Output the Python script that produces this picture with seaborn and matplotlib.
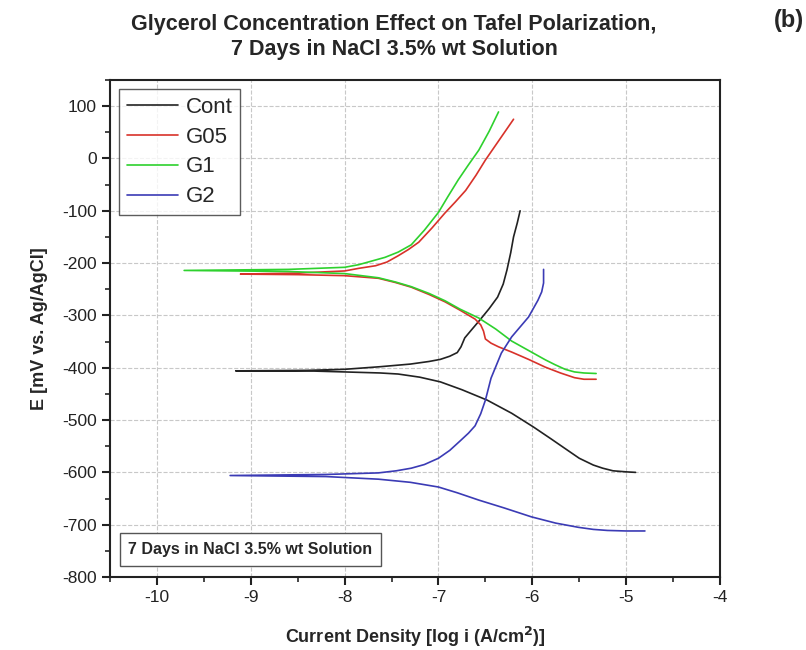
import pandas as pd
import matplotlib
matplotlib.use('Agg')
import matplotlib.pyplot as plt
from matplotlib.ticker import MultipleLocator
import seaborn as sns

# Tafel polarization curves
# each curve: cathodic branch (from its far end back to Ecorr), then anodic branch
cont_logi = [-4.90, -5.00, -5.14, -5.25, -5.35, -5.50, -5.63, -5.80, -5.99, -6.22, -6.48, -6.75, -6.98,
             -7.20, -7.43, -7.62, -8.0, -8.4, -9.16,
             -8.4, -8.0, -7.62, -7.30, -7.10, -6.98, -6.88, -6.80, -6.76, -6.72, -6.65, -6.56, -6.46,
             -6.37, -6.31, -6.27, -6.23, -6.20, -6.16, -6.13]
cont_E = [-600, -599, -597, -592, -586, -573, -557, -536, -513, -487, -462, -442, -427,
          -418, -412, -410, -408, -406, -406,
          -405, -403, -398, -393, -388, -384, -378, -371, -360, -343, -328, -309, -287,
          -265, -240, -213, -180, -150, -123, -100]

g05_logi = [-5.32, -5.45, -5.55, -5.70, -5.86, -6.04, -6.22, -6.36, -6.44, -6.50, -6.52, -6.55, -6.61,
            -6.77, -6.93, -7.10, -7.29, -7.46, -7.64, -8.0, -8.5, -9.11,
            -8.5, -8.0, -7.85, -7.67, -7.55, -7.43, -7.32, -7.21, -7.07, -6.93, -6.82, -6.71,
            -6.60, -6.50, -6.35, -6.20]
g05_E = [-422, -422, -419, -410, -399, -384, -370, -360, -353, -345, -330, -318, -307,
         -290, -274, -260, -246, -237, -229, -224, -222, -221,
         -219, -215, -210, -205, -198, -186, -174, -160, -133, -104, -83, -61,
         -32, -3, 36, 75]

g1_logi = [-5.32, -5.45, -5.55, -5.65, -5.76, -5.86, -6.04, -6.22, -6.39, -6.57, -6.77, -6.93,
           -7.10, -7.29, -7.46, -7.64, -8.0, -8.6, -9.71,
           -8.6, -8.0, -7.85, -7.71, -7.57, -7.43, -7.29, -7.15, -7.0, -6.90, -6.79, -6.68,
           -6.57, -6.46, -6.36]
g1_E = [-411, -410, -408, -403, -394, -385, -367, -349, -326, -305, -288, -272,
        -258, -245, -236, -228, -220, -216, -214,
        -212, -208, -203, -196, -189, -179, -165, -137, -103, -73, -41, -12,
        16, 52, 89]

g2_logi = [-4.80, -5.00, -5.20, -5.35, -5.51, -5.75, -6.01, -6.30, -6.57, -6.80, -7.0, -7.30,
           -7.64, -8.2, -9.22,
           -8.2, -7.64, -7.45, -7.29, -7.15, -7.0, -6.88, -6.77, -6.68, -6.61, -6.55, -6.50, -6.44,
           -6.33, -6.22, -6.13, -6.04, -5.94, -5.90, -5.88, -5.88]
g2_E = [-712, -712, -711, -709, -705, -697, -685, -668, -653, -639, -628, -619,
        -613, -608, -606,
        -604, -601, -597, -592, -585, -573, -558, -540, -525, -511, -488, -462, -420,
        -372, -341, -322, -303, -271, -255, -238, -212]

samples = ['Cont', 'G05', 'G1', 'G2']
colors = ['#222222', '#d8322a', '#2ed12e', '#3b3bb5']

# build a long table for seaborn
frames = []
for name, xs, ys in zip(samples, [cont_logi, g05_logi, g1_logi, g2_logi], [cont_E, g05_E, g1_E, g2_E]):
    frames.append(pd.DataFrame({'logi': xs, 'E': ys, 'sample': name}))
data = pd.concat(frames, ignore_index=True)

sns.set_style('white')
plt.rcParams['font.family'] = ['Liberation Sans', 'DejaVu Sans']
plt.rcParams['axes.unicode_minus'] = False

fig = plt.figure(figsize=(8.06, 6.5), dpi=100)
ax = fig.add_axes([0.1365, 0.1123, 0.7568, 0.7646])

sns.lineplot(data=data, x='logi', y='E', hue='sample', palette=dict(zip(samples, colors)),
             sort=False, estimator=None, units='sample', linewidth=1.2, ax=ax)

ax.set_xlim(-10.5, -4)
ax.set_ylim(-800, 150)
ax.xaxis.set_major_locator(MultipleLocator(1))
ax.xaxis.set_minor_locator(MultipleLocator(0.5))
ax.yaxis.set_major_locator(MultipleLocator(100))
ax.yaxis.set_minor_locator(MultipleLocator(50))
ax.set_yticks(range(-800, 101, 100))
ax.tick_params(which='major', direction='out', length=6, width=1.5, labelsize=12.5, colors='#222222',
               bottom=True, left=True, top=False, right=False)
ax.tick_params(which='minor', direction='out', length=3.5, width=1.2,
               bottom=True, left=True, top=False, right=False)
ax.grid(True, which='major', linestyle='--', color='#c8c8c8', linewidth=0.8)
for s in ax.spines.values():
    s.set_color('#222222')
    s.set_linewidth(1.5)

ax.set_xlabel('Current Density [log i (A/cm$^\\mathbf{2}$)]', fontsize=13, fontweight='bold', labelpad=14)
ax.set_ylabel('E [mV vs. Ag/AgCl]', fontsize=13, fontweight='bold', labelpad=10)

leg = ax.legend(loc='upper left', fontsize=16, frameon=True, fancybox=False, edgecolor='#333333',
                handlelength=2.3, borderpad=0.35, labelspacing=0.4, handletextpad=0.35,
                borderaxespad=0.4)
leg.get_frame().set_linewidth(1.0)

ax.text(0.03, 0.055, '7 Days in NaCl 3.5% wt Solution', transform=ax.transAxes,
        fontsize=11.5, fontweight='bold', va='center', ha='left',
        bbox=dict(boxstyle='square,pad=0.55', fc='white', ec='#555555', lw=1.0))

fig.text(0.489, 0.978, 'Glycerol Concentration Effect on Tafel Polarization,\n7 Days in NaCl 3.5% wt Solution',
         ha='center', va='top', fontsize=15.5, fontweight='bold', linespacing=1.2)
fig.text(0.998, 0.968, '(b)', ha='right', va='center', fontsize=17, fontweight='bold')

fig.savefig('out.png', dpi=100)
